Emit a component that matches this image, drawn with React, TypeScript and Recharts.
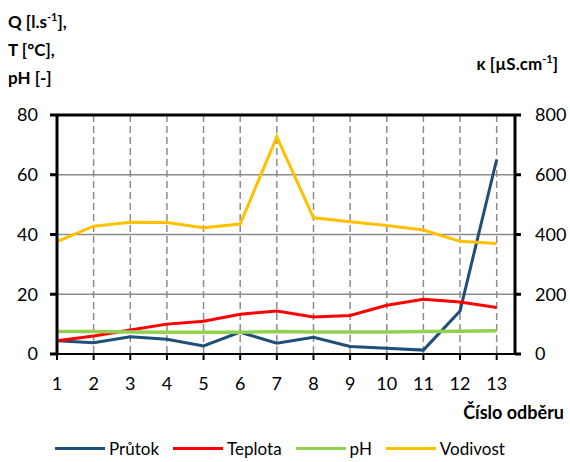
import React from 'react'
import { LineChart, Line, XAxis, YAxis, CartesianGrid, Legend, ReferenceLine } from 'recharts'

const samples = [1, 2, 3, 4, 5, 6, 7, 8, 9, 10, 11, 12, 13]
const prutok = [4.4, 3.8, 5.8, 4.9, 2.7, 7.3, 3.6, 5.6, 2.5, 1.9, 1.3, 14.4, 65.1]
const teplota = [4.4, 6.0, 8.0, 10.0, 11.0, 13.3, 14.4, 12.4, 12.9, 16.3, 18.3, 17.4, 15.6]
const ph = [7.5, 7.5, 7.4, 7.3, 7.3, 7.3, 7.5, 7.4, 7.4, 7.4, 7.5, 7.6, 7.8]
const vodivost = [376, 428, 441, 440, 423, 435, 727, 456, 443, 430, 415, 377, 370]

const leftTicks = [0, 20, 40, 60, 80]
const rightTicks = [0, 200, 400, 600, 800]

const seriesInfo = [
  { key: 'prutok', name: 'Průtok', color: '#1F4E79', axis: 'left' },
  { key: 'teplota', name: 'Teplota', color: '#FF0000', axis: 'left' },
  { key: 'ph', name: 'pH', color: '#92D050', axis: 'left' },
  { key: 'vodivost', name: 'Vodivost', color: '#FFC000', axis: 'right' },
]

const data = samples.map((s, i) => ({
  cislo: s,
  prutok: prutok[i],
  teplota: teplota[i],
  ph: ph[i],
  vodivost: vodivost[i],
}))

const font = 'Lato, "Open Sans", sans-serif'
const tickStyle = { fill: '#000', fontSize: 18, fontFamily: font }

const renderLegend = () => (
  <div style={{ display: 'flex', justifyContent: 'center', gap: 14, fontFamily: font, fontSize: 17, color: '#000' }}>
    {seriesInfo.map(s => (
      <div key={s.key} style={{ display: 'flex', alignItems: 'center' }}>
        <span style={{ display: 'inline-block', width: 50, height: 3, background: s.color, marginRight: 4 }} />
        <span>{s.name}</span>
      </div>
    ))}
  </div>
)

export default function App() {
  return (
    <div style={{ position: 'absolute', left: 0, top: 0, width: 570, height: 462, background: '#fff', fontFamily: font }}>
      <div style={{ position: 'absolute', left: 8, top: 3, fontWeight: 700, fontSize: 17, lineHeight: '28px' }}>
        <div>Q [l.s<sup style={{ fontSize: 11 }}>-1</sup>],</div>
        <div>T [°C],</div>
        <div>pH [-]</div>
      </div>
      <div style={{ position: 'absolute', right: 12, top: 52, fontWeight: 700, fontSize: 17 }}>
        κ [µS.cm<sup style={{ fontSize: 11 }}>-1</sup>]
      </div>
      <div style={{ position: 'absolute', right: 6, top: 401, fontWeight: 700, fontSize: 18 }}>
        Číslo odběru
      </div>
      <LineChart width={570} height={462} data={data} margin={{ top: 115, right: 0, bottom: 78, left: 0 }}>
        <CartesianGrid yAxisId="left" vertical={false} stroke="#8c8c8c" strokeWidth={1.5} />
        <CartesianGrid yAxisId="left" horizontal={false} stroke="#8c8c8c" strokeWidth={1.5} strokeDasharray="7 4" />
        <XAxis
          dataKey="cislo"
          type="number"
          domain={[1, 13.5]}
          ticks={samples}
          allowDataOverflow
          height={30}
          stroke="#000"
          strokeWidth={2}
          tickSize={6}
          tickMargin={17}
          tick={tickStyle}
          interval={0}
        />
        <YAxis
          yAxisId="left"
          domain={[0, 80]}
          ticks={leftTicks}
          width={57}
          stroke="#000"
          strokeWidth={3}
          tickSize={7}
          tickMargin={12}
          tick={tickStyle}
        />
        <YAxis
          yAxisId="right"
          orientation="right"
          domain={[0, 800]}
          ticks={rightTicks}
          width={55}
          stroke="#000"
          strokeWidth={3}
          tickSize={6}
          tickMargin={14}
          tick={tickStyle}
        />
        <ReferenceLine yAxisId="left" y={80} stroke="#000" strokeWidth={3} />
        {seriesInfo.map(s => (
          <Line
            key={s.key}
            yAxisId={s.axis}
            type="linear"
            dataKey={s.key}
            name={s.name}
            stroke={s.color}
            strokeWidth={s.key === 'ph' ? 3.5 : 3}
            dot={false}
            isAnimationActive={false}
          />
        ))}
        <Legend
          verticalAlign="middle"
          align="center"
          layout="horizontal"
          content={renderLegend}
          wrapperStyle={{ top: 438, left: 0, width: 560 }}
        />
      </LineChart>
    </div>
  )
}
